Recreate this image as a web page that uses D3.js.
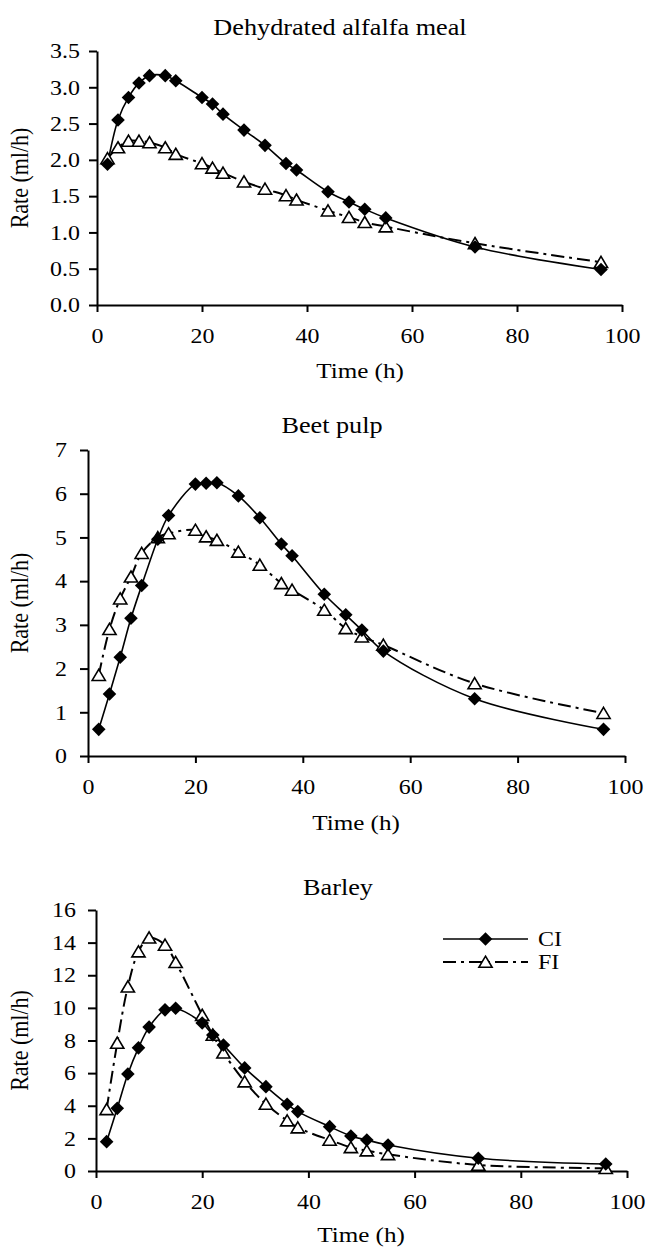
<!DOCTYPE html>
<html>
<head>
<meta charset="utf-8">
<script src="https://cdn.jsdelivr.net/npm/d3@7"></script>
<style>
  html, body { margin: 0; padding: 0; background: #fff; }
  svg { display: block; }
  text { font-family: "Liberation Serif", "Times New Roman", serif; fill: #000; }
</style>
</head>
<body>
<svg id="chart" width="648" height="1247"></svg>
<script>
// ---- data ----
const times = [2, 4, 6, 8, 10, 13, 15, 20, 22, 24, 28, 32, 36, 38, 44, 48, 51, 55, 72, 96];

const alfalfaCI = [1.94, 2.55, 2.86, 3.06, 3.16, 3.16, 3.09, 2.86, 2.77, 2.63, 2.41, 2.20, 1.95, 1.86, 1.56, 1.42, 1.32, 1.20, 0.80, 0.49];
const alfalfaFI = [2.02, 2.17, 2.26, 2.26, 2.24, 2.17, 2.08, 1.95, 1.89, 1.82, 1.70, 1.60, 1.51, 1.45, 1.30, 1.21, 1.14, 1.08, 0.85, 0.59];

const beetCI = [0.61, 1.42, 2.26, 3.15, 3.90, 4.96, 5.50, 6.22, 6.24, 6.25, 5.95, 5.45, 4.85, 4.58, 3.70, 3.23, 2.88, 2.40, 1.31, 0.61];
const beetFI = [1.85, 2.90, 3.60, 4.10, 4.64, 5.00, 5.09, 5.17, 5.02, 4.94, 4.67, 4.37, 3.95, 3.80, 3.34, 2.92, 2.73, 2.54, 1.66, 0.98];

const barleyCI = [1.80, 3.84, 5.95, 7.55, 8.82, 9.88, 9.98, 9.07, 8.34, 7.72, 6.32, 5.17, 4.09, 3.64, 2.72, 2.15, 1.90, 1.59, 0.78, 0.43];
const barleyFI = [3.78, 7.85, 11.30, 13.45, 14.30, 13.86, 12.80, 9.56, 8.34, 7.25, 5.48, 4.11, 3.09, 2.66, 1.90, 1.45, 1.25, 1.02, 0.37, 0.17];

const titles = ["Dehydrated alfalfa meal", "Beet pulp", "Barley"];
const xTicks = [0, 20, 40, 60, 80, 100];
const yTicksAlfalfa = [0, 0.5, 1.0, 1.5, 2.0, 2.5, 3.0, 3.5];
const yTicksBeet = [0, 1, 2, 3, 4, 5, 6, 7];
const yTicksBarley = [0, 2, 4, 6, 8, 10, 12, 14, 16];
const seriesNames = ["CI", "FI"];
const xLabel = "Time (h)";
const yLabel = "Rate (ml/h)";

// ---- layout ----
const SX = 1.14; // horizontal stretch of the reference text
const panels = [
  { title: titles[0], ci: alfalfaCI, fi: alfalfaFI, yTicks: yTicksAlfalfa, fmt: d3.format(".1f"),
    x0: 97, x1: 622, yb: 305, yt: 51, labGap: 17,
    titlePos: [340, 35], xLabPos: [360, 378], yLabX: 28, legend: false },
  { title: titles[1], ci: beetCI, fi: beetFI, yTicks: yTicksBeet, fmt: d3.format("d"),
    x0: 88, x1: 625, yb: 756, yt: 450, labGap: 21,
    titlePos: [332, 433], xLabPos: [356, 830], yLabX: 28, legend: false },
  { title: titles[2], ci: barleyCI, fi: barleyFI, yTicks: yTicksBarley, fmt: d3.format("d"),
    x0: 96, x1: 627, yb: 1171, yt: 910, labGap: 20,
    titlePos: [338, 895], xLabPos: [361, 1242], yLabX: 28, legend: true }
];

const svg = d3.select("#chart");

const diamondPath = "M0,-6.8L6.8,0L0,6.8L-6.8,0Z";
const trianglePath = "M0,-5.8L6.6,5.3L-6.6,5.3Z";
const dashFI = "13,5,3,5";

function addText(g, x, y, str, size, anchor, rotate) {
  const tr = rotate
    ? `translate(${x},${y}) rotate(-90) scale(1,${SX})`
    : `translate(${x},${y}) scale(${SX},1)`;
  return g.append("text")
    .attr("transform", tr)
    .attr("text-anchor", anchor)
    .attr("font-size", size)
    .text(str);
}

panels.forEach(p => {
  const g = svg.append("g");
  const yMax = p.yTicks[p.yTicks.length - 1];
  const x = d3.scaleLinear().domain([0, 100]).range([p.x0, p.x1]);
  const y = d3.scaleLinear().domain([0, yMax]).range([p.yb, p.yt]);

  // axes
  const yAxis = d3.axisLeft(y).tickValues(p.yTicks).tickFormat(p.fmt).tickSize(8).tickSizeOuter(0);
  const gy = g.append("g").attr("transform", `translate(${p.x0},0)`).call(yAxis);
  gy.selectAll("text")
    .attr("x", -p.labGap / SX)
    .attr("transform", `scale(${SX},1)`)
    .attr("font-size", 21)
    .attr("font-family", "Liberation Serif");

  const xAxis = d3.axisBottom(x).tickValues(xTicks).tickFormat(d3.format("d")).tickSize(7).tickSizeOuter(0);
  const gx = g.append("g").attr("transform", `translate(0,${p.yb})`).call(xAxis);
  gx.selectAll("text")
    .attr("y", 38)
    .attr("dy", 0)
    .attr("transform", `scale(${SX},1)`)
    .attr("font-size", 21)
    .attr("font-family", "Liberation Serif");

  [gx, gy].forEach(a => {
    a.select(".domain").attr("stroke", "#000").attr("stroke-width", 2);
    a.selectAll(".tick line").attr("stroke", "#000").attr("stroke-width", 2);
  });

  // lines
  const line = d3.line().x(d => x(d[0])).y(d => y(d[1])).curve(d3.curveCatmullRom.alpha(0.5));
  const ciData = times.map((t, i) => [t, p.ci[i]]);
  const fiData = times.map((t, i) => [t, p.fi[i]]);

  g.append("path").datum(fiData).attr("d", line)
    .attr("fill", "none").attr("stroke", "#000").attr("stroke-width", 2)
    .attr("stroke-dasharray", dashFI);
  g.append("path").datum(ciData).attr("d", line)
    .attr("fill", "none").attr("stroke", "#000").attr("stroke-width", 1.6);

  // markers
  g.selectAll(".tri").data(fiData).join("path")
    .attr("class", "tri")
    .attr("d", trianglePath)
    .attr("transform", d => `translate(${x(d[0])},${y(d[1])})`)
    .attr("fill", "#fff").attr("stroke", "#000").attr("stroke-width", 1.6);
  g.selectAll(".dia").data(ciData).join("path")
    .attr("class", "dia")
    .attr("d", diamondPath)
    .attr("transform", d => `translate(${x(d[0])},${y(d[1])})`)
    .attr("fill", "#000");

  // titles
  addText(g, p.titlePos[0], p.titlePos[1], p.title, 23, "middle", false);
  addText(g, p.xLabPos[0], p.xLabPos[1], xLabel, 22, "middle", false);
  addText(g, p.yLabX, (p.yb + p.yt) / 2, yLabel, 22, "middle", true);

  // legend
  if (p.legend) {
    const lx0 = 443, lx1 = 528, lm = (lx0 + lx1) / 2;
    const rows = [
      { name: seriesNames[0], y: 939, dash: null, marker: diamondPath, fill: "#000", sw: 1.6 },
      { name: seriesNames[1], y: 962, dash: dashFI, marker: trianglePath, fill: "#fff", sw: 2 }
    ];
    rows.forEach(r => {
      const ln = g.append("line").attr("x1", lx0).attr("x2", lx1).attr("y1", r.y).attr("y2", r.y)
        .attr("stroke", "#000").attr("stroke-width", r.sw);
      if (r.dash) ln.attr("stroke-dasharray", r.dash);
      g.append("path").attr("d", r.marker).attr("transform", `translate(${lm},${r.y})`)
        .attr("fill", r.fill).attr("stroke", r.fill === "#fff" ? "#000" : "none").attr("stroke-width", 1.6);
      addText(g, 538, r.y + 7, r.name, 21, "start", false);
    });
  }
});
</script>
</body>
</html>
